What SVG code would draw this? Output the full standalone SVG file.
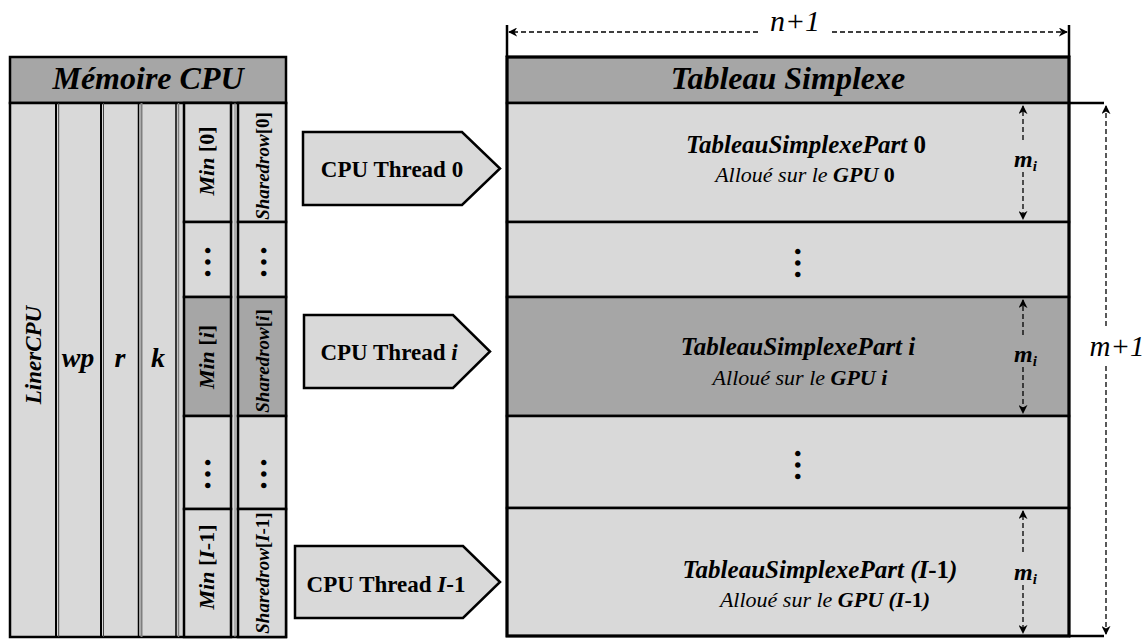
<svg xmlns="http://www.w3.org/2000/svg" width="1146" height="639" viewBox="0 0 1146 639">
<defs>
<style>
.lt{fill:#d9d9d9;stroke:#000;stroke-width:2.5}
.dk{fill:#a6a6a6;stroke:#000;stroke-width:2.5}
.t{font-family:"Liberation Serif","Times New Roman",serif;fill:#000}
.bi{font-weight:bold;font-style:italic}
.b{font-weight:bold;font-style:normal}
.i{font-style:italic;font-weight:normal}
.hd{font-size:32px;font-weight:bold;font-style:italic;text-anchor:middle}
.mn{font-size:22px;text-anchor:middle}
.sr{font-size:19px;text-anchor:middle}
.th{font-size:23px;font-weight:bold;text-anchor:middle}
.p1{font-size:25px;text-anchor:middle}
.p2{font-size:22px;text-anchor:middle}
.mi{font-size:24px;font-weight:bold;font-style:italic}
.dots{font-size:34px;font-weight:bold;text-anchor:middle}
.dim{fill:none;stroke:#000;stroke-width:1.3;stroke-dasharray:5 3}
.tick{fill:none;stroke:#000;stroke-width:2.5}
</style>
<marker id="ah" viewBox="0 0 10 10" refX="9" refY="5" markerWidth="9" markerHeight="9" markerUnits="userSpaceOnUse" orient="auto-start-reverse">
<path d="M0,0 L10,5 L0,10 L3,5 Z" fill="#000"/>
</marker>
</defs>
<rect width="1146" height="639" fill="#fff"/>

<!-- CPU memory block -->
<g id="mem-header">
<rect class="dk" x="10" y="57" width="276" height="46"/>
<text class="t hd" x="148" y="89">Mémoire CPU</text>
</g>
<g id="mem-body">
<rect class="lt" x="10" y="103" width="276" height="534"/>
<line x1="56" y1="103" x2="56" y2="637" stroke="#000" stroke-width="2"/>
<line x1="58.7" y1="103" x2="58.7" y2="637" stroke="#404040" stroke-width="1"/>
<line x1="101" y1="103" x2="101" y2="637" stroke="#000" stroke-width="2"/>
<line x1="103.5" y1="103" x2="103.5" y2="637" stroke="#404040" stroke-width="1"/>
<line x1="138.5" y1="103" x2="138.5" y2="637" stroke="#000" stroke-width="1.5"/>
<line x1="141.5" y1="103" x2="141.5" y2="637" stroke="#7f7f7f" stroke-width="2"/>
<line x1="176" y1="103" x2="176" y2="637" stroke="#000" stroke-width="1.5"/>
<line x1="178.5" y1="103" x2="178.5" y2="637" stroke="#7f7f7f" stroke-width="1.5"/>
<line x1="235" y1="103" x2="235" y2="637" stroke="#7f7f7f" stroke-width="1"/>
</g>
<g id="mem-linercpu">
<text class="t bi" font-size="23" text-anchor="middle" transform="translate(33,355) rotate(-90)" y="7.5">LinerCPU</text>
</g>
<g id="mem-wp"><text class="t bi" font-size="28" text-anchor="middle" x="78" y="367">wp</text></g>
<g id="mem-r"><text class="t bi" font-size="28" text-anchor="middle" x="120" y="367">r</text></g>
<g id="mem-k"><text class="t bi" font-size="28" text-anchor="middle" x="158" y="367">k</text></g>

<g id="min-0">
<rect class="lt" x="184" y="103" width="47" height="119"/>
<text class="t mn" transform="translate(207,161) rotate(-90)" y="7"><tspan class="bi">Min</tspan><tspan class="b"> [0]</tspan></text>
</g>
<g id="min-dots-1">
<rect class="lt" x="184" y="222" width="47" height="75"/>
<text class="t dots" transform="translate(205,262) rotate(90)">…</text>
</g>
<g id="min-i">
<rect class="dk" x="184" y="297" width="47" height="119"/>
<text class="t mn" transform="translate(207,357) rotate(-90)" y="7"><tspan class="bi">Min</tspan><tspan class="b"> [</tspan><tspan class="bi">i</tspan><tspan class="b">]</tspan></text>
</g>
<g id="min-dots-2">
<rect class="lt" x="184" y="416" width="47" height="93"/>
<text class="t dots" transform="translate(205,474) rotate(90)">…</text>
</g>
<g id="min-last">
<rect class="lt" x="184" y="509" width="47" height="128"/>
<text class="t mn" transform="translate(207,567) rotate(-90)" y="7"><tspan class="bi">Min</tspan><tspan class="b"> [</tspan><tspan class="bi">I</tspan><tspan class="b">-1]</tspan></text>
</g>

<g id="sharedrow-0">
<rect class="lt" x="238" y="103" width="48" height="119"/>
<text class="t sr" transform="translate(262,166) rotate(-90)" y="6.5"><tspan class="bi">Sharedrow</tspan><tspan class="b">[0]</tspan></text>
</g>
<g id="sharedrow-dots-1">
<rect class="lt" x="238" y="222" width="48" height="75"/>
<text class="t dots" transform="translate(261,262) rotate(90)">…</text>
</g>
<g id="sharedrow-i">
<rect class="dk" x="238" y="297" width="48" height="119"/>
<text class="t sr" transform="translate(262,361) rotate(-90)" y="6.5"><tspan class="bi">Sharedrow</tspan><tspan class="b">[</tspan><tspan class="bi">i</tspan><tspan class="b">]</tspan></text>
</g>
<g id="sharedrow-dots-2">
<rect class="lt" x="238" y="416" width="48" height="93"/>
<text class="t dots" transform="translate(261,474) rotate(90)">…</text>
</g>
<g id="sharedrow-last">
<rect class="lt" x="238" y="509" width="48" height="128"/>
<text class="t sr" transform="translate(262,573) rotate(-90)" y="6.5"><tspan class="bi">Sharedrow</tspan><tspan class="b">[</tspan><tspan class="bi">I</tspan><tspan class="b">-1]</tspan></text>
</g>

<!-- CPU threads -->
<g id="thread-0">
<path class="lt" d="M303,132 H462 L500,168.5 L462,205 H303 Z"/>
<text class="t th" x="392" y="177">CPU Thread 0</text>
</g>
<g id="thread-i">
<path class="lt" d="M304,315 H453 L490,351.5 L453,388 H304 Z"/>
<text class="t th" x="389" y="360">CPU Thread <tspan font-style="italic">i</tspan></text>
</g>
<g id="thread-last">
<path class="lt" d="M295,546 H463 L500,582 L463,618 H295 Z"/>
<text class="t th" x="386" y="592">CPU Thread <tspan font-style="italic">I</tspan>-1</text>
</g>

<!-- Tableau Simplexe -->
<g id="tab-header">
<rect class="dk" x="507" y="57" width="562" height="46" stroke-width="3"/>
<text class="t hd" x="788" y="89">Tableau Simplexe</text>
</g>
<g id="tab-part-0">
<rect class="lt" x="507" y="103" width="562" height="119" stroke-width="3"/>
<text class="t p1" x="806" y="153"><tspan class="bi">TableauSimplexePart</tspan><tspan class="b"> 0</tspan></text>
<text class="t p2" x="805" y="182"><tspan class="i">Alloué sur le </tspan><tspan class="bi">GPU</tspan><tspan class="b"> 0</tspan></text>
<text class="t mi" x="1014" y="167">m<tspan font-size="15" dy="4">i</tspan></text>
</g>
<g id="tab-dots-1">
<rect class="lt" x="507" y="222" width="562" height="75" stroke-width="3"/>
<text class="t dots" transform="translate(795,263) rotate(90)">…</text>
</g>
<g id="tab-part-i">
<rect class="dk" x="507" y="297" width="562" height="119" stroke-width="3"/>
<text class="t p1 bi" x="798" y="355">TableauSimplexePart i</text>
<text class="t p2" x="800" y="385"><tspan class="i">Alloué sur le </tspan><tspan class="bi">GPU i</tspan></text>
<text class="t mi" x="1014" y="362">m<tspan font-size="15" dy="4">i</tspan></text>
</g>
<g id="tab-dots-2">
<rect class="lt" x="507" y="416" width="562" height="92" stroke-width="3"/>
<text class="t dots" transform="translate(795,465) rotate(90)">…</text>
</g>
<g id="tab-part-last">
<rect class="lt" x="507" y="508" width="562" height="128" stroke-width="3"/>
<text class="t p1" x="820" y="578"><tspan class="bi">TableauSimplexePart (I</tspan><tspan class="b">-1</tspan><tspan class="bi">)</tspan></text>
<text class="t p2" x="825" y="607"><tspan class="i">Alloué sur le </tspan><tspan class="bi">GPU (I</tspan><tspan class="b">-1</tspan><tspan class="bi">)</tspan></text>
<text class="t mi" x="1014" y="580">m<tspan font-size="15" dy="4">i</tspan></text>
</g>
<rect x="507" y="57" width="562" height="579" fill="none" stroke="#000" stroke-width="3"/>

<!-- dimension connectors -->
<g id="connectors">
<line class="tick" x1="507" y1="25" x2="507" y2="57"/>
<line class="tick" x1="1069" y1="25" x2="1069" y2="57"/>
<line class="dim" x1="758" y1="32" x2="509" y2="32" marker-end="url(#ah)"/>
<line class="dim" x1="832" y1="32" x2="1067" y2="32" marker-end="url(#ah)"/>
<text class="t i" font-size="30" text-anchor="middle" x="795" y="31">n+1</text>

<line class="tick" x1="1069" y1="103" x2="1104" y2="103"/>
<line class="tick" x1="1069" y1="636" x2="1104" y2="636"/>
<line class="dim" x1="1106" y1="326" x2="1106" y2="106" marker-end="url(#ah)"/>
<line class="dim" x1="1106" y1="366" x2="1106" y2="634" marker-end="url(#ah)"/>
<text class="t i" font-size="29" text-anchor="middle" x="1117" y="356">m+1</text>

<line class="dim" x1="1023" y1="140" x2="1023" y2="106" marker-end="url(#ah)"/>
<line class="dim" x1="1023" y1="172" x2="1023" y2="219" marker-end="url(#ah)"/>
<line class="dim" x1="1023" y1="335" x2="1023" y2="300" marker-end="url(#ah)"/>
<line class="dim" x1="1023" y1="367" x2="1023" y2="413" marker-end="url(#ah)"/>
<line class="dim" x1="1023" y1="552" x2="1023" y2="511" marker-end="url(#ah)"/>
<line class="dim" x1="1023" y1="585" x2="1023" y2="633" marker-end="url(#ah)"/>
</g>
</svg>
